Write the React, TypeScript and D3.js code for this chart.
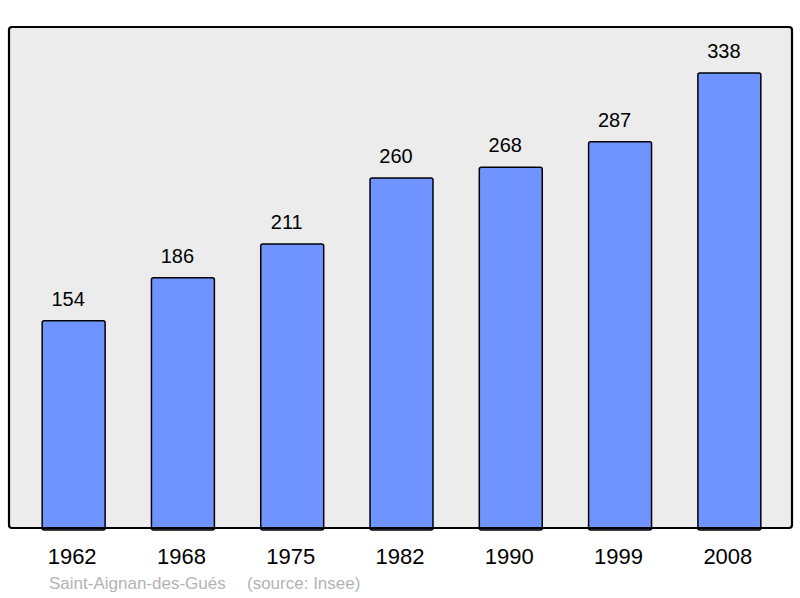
import React, { useEffect, useRef } from "react";
import { select, scaleBand, scaleLinear } from "d3";

const years: string[] = ["1962", "1968", "1975", "1982", "1990", "1999", "2008"];
const population: number[] = [154, 186, 211, 260, 268, 287, 338];
const commune = "Saint-Aignan-des-Gués";
const source = "(source: Insee)";

const WIDTH = 800;
const HEIGHT = 598;
const FONT = "'Liberation Sans', Arial, sans-serif";

const App: React.FC = () => {
  const svgRef = useRef<SVGSVGElement>(null);

  useEffect(() => {
    const svg = select(svgRef.current);
    svg.selectAll("*").remove();

    const frame = { left: 9, top: 27, right: 792, bottom: 528 };

    const x = scaleBand<string>()
      .domain(years)
      .range([19, 784])
      .paddingInner(0.424)
      .paddingOuter(0.212);

    const y = scaleLinear().domain([0, 372.2]).range([frame.bottom, frame.top]);

    svg
      .append("rect")
      .attr("x", frame.left)
      .attr("y", frame.top)
      .attr("width", frame.right - frame.left)
      .attr("height", frame.bottom - frame.top)
      .attr("rx", 3)
      .style("fill", "#ececec")
      .style("stroke", "none");

    const data = years.map((yr, i) => ({ year: yr, value: population[i] }));

    svg
      .selectAll(".bar")
      .data(data)
      .join("rect")
      .attr("class", "bar")
      .attr("x", (d) => x(d.year) as number)
      .attr("y", (d) => y(d.value))
      .attr("width", x.bandwidth())
      .attr("height", (d) => frame.bottom - y(d.value) + 2)
      .attr("rx", 2)
      .style("fill", "#7094ff")
      .style("stroke", "#000")
      .style("stroke-width", 1.5);

    // value labels sit a little left of the bar centre in the original
    svg
      .selectAll(".val")
      .data(data)
      .join("text")
      .attr("class", "val")
      .attr("x", (d) => (x(d.year) as number) + x.bandwidth() / 2 - 5.5)
      .attr("y", (d) => y(d.value) - 15)
      .attr("text-anchor", "middle")
      .style("font-family", FONT)
      .style("font-size", "20px")
      .style("fill", "#000")
      .text((d) => String(d.value));

    // frame border on top of bars
    svg
      .append("rect")
      .attr("x", frame.left)
      .attr("y", frame.top)
      .attr("width", frame.right - frame.left)
      .attr("height", frame.bottom - frame.top)
      .attr("rx", 3)
      .style("fill", "none")
      .style("stroke", "#000")
      .style("stroke-width", 2.2);

    svg
      .selectAll(".yr")
      .data(years)
      .join("text")
      .attr("class", "yr")
      .attr("x", (d) => (x(d) as number) + x.bandwidth() / 2 - 1.5)
      .attr("y", 564)
      .attr("text-anchor", "middle")
      .style("font-family", FONT)
      .style("font-size", "22px")
      .style("fill", "#000")
      .text((d) => d);

    svg
      .append("text")
      .attr("x", 49)
      .attr("y", 589)
      .style("font-family", FONT)
      .style("font-size", "17px")
      .style("fill", "#b3b3b3")
      .text(commune);

    svg
      .append("text")
      .attr("x", 247)
      .attr("y", 589)
      .style("font-family", FONT)
      .style("font-size", "17px")
      .style("fill", "#b3b3b3")
      .text(source);
  }, []);

  return (
    <svg
      ref={svgRef}
      width={WIDTH}
      height={HEIGHT}
      style={{ position: "absolute", left: 0, top: 0, background: "#fff" }}
    />
  );
};

export default App;
